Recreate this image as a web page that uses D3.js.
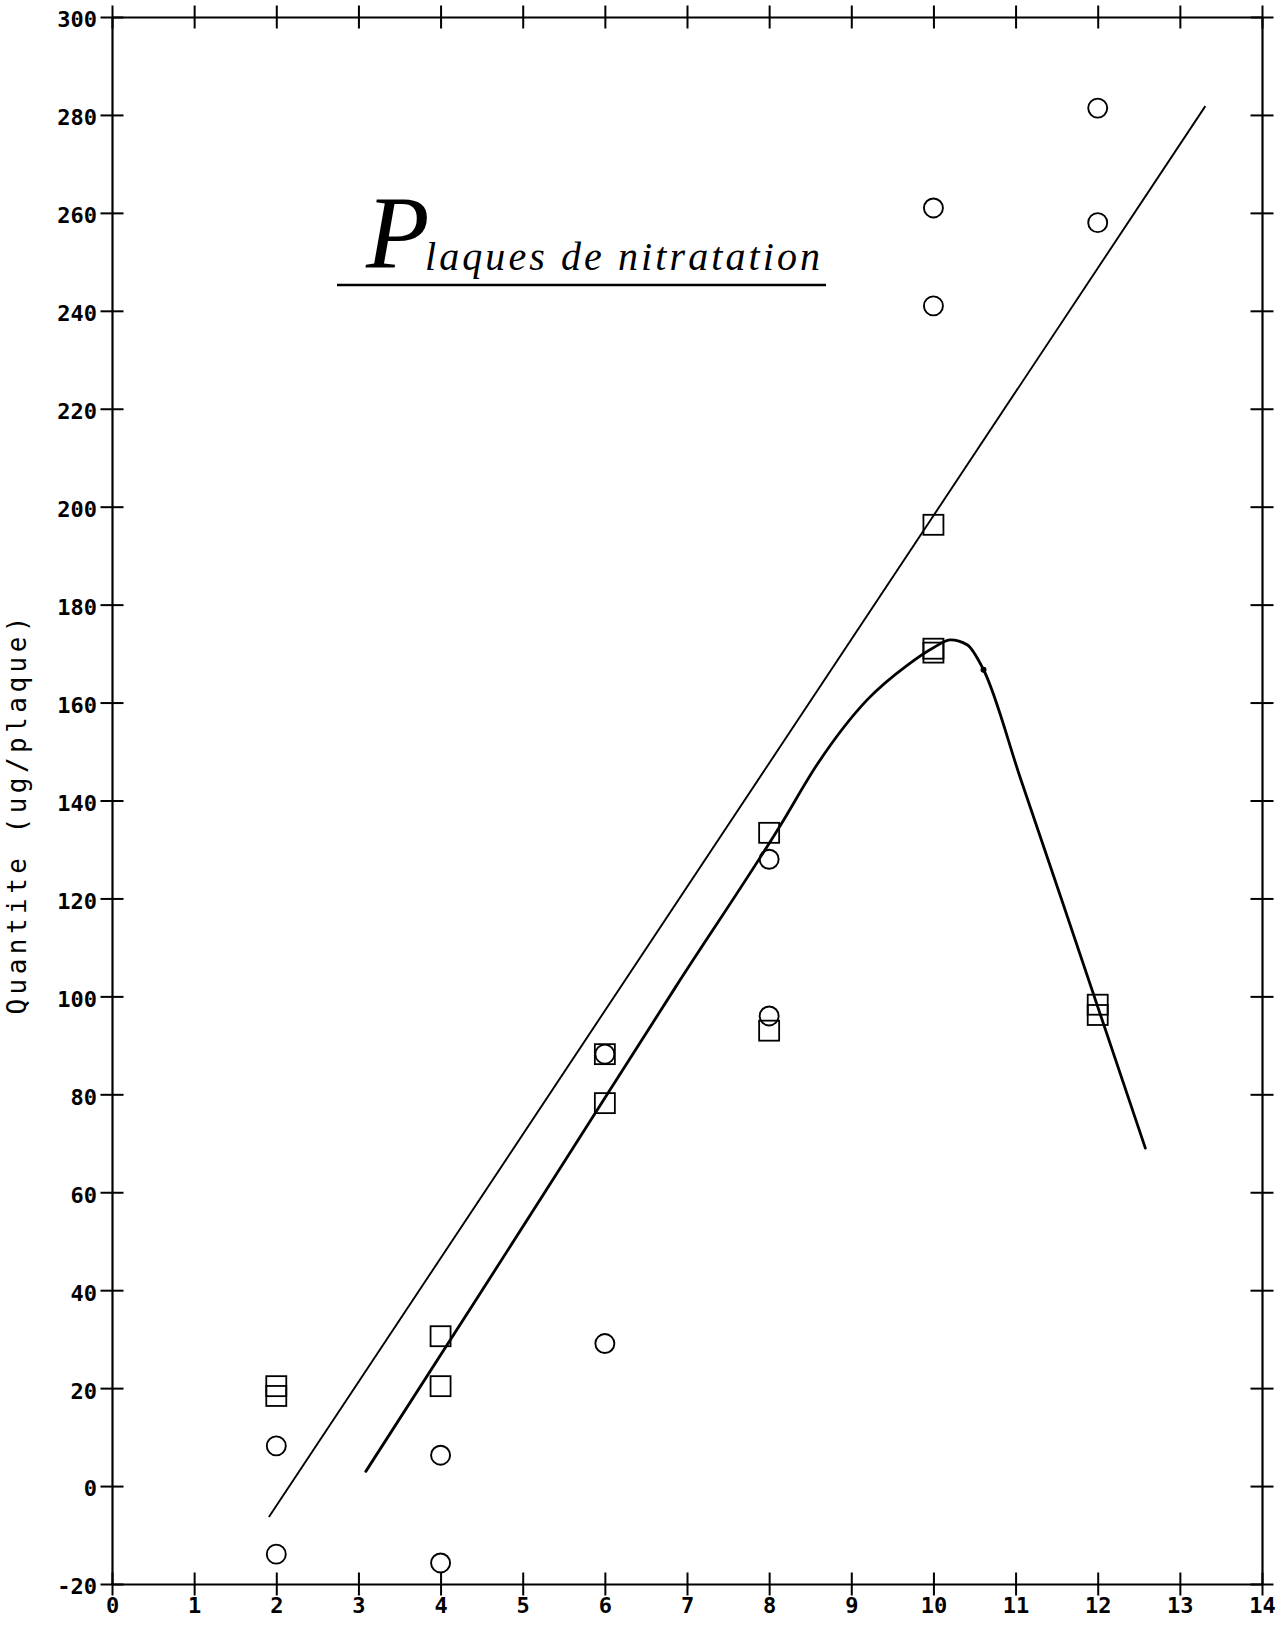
<!DOCTYPE html>
<html><head><meta charset="utf-8">
<script src="https://cdn.jsdelivr.net/npm/d3@7/dist/d3.min.js"></script>
<style>html,body{margin:0;padding:0;background:#fff;} svg{display:block}</style>
</head><body>
<svg id="chart" width="1283" height="1631"></svg>
<script>
// ---------- data ----------
const xTickValues = [0,1,2,3,4,5,6,7,8,9,10,11,12,13,14];
const xTickLabels = ["0","1","2","3","4","5","6","7","8","9","10","11","12","13","14"];
const yTickValues = [-20,0,20,40,60,80,100,120,140,160,180,200,220,240,260,280,300];
const yTickLabels = ["-20","0","20","40","60","80","100","120","140","160","180","200","220","240","260","280","300"];

const circleX = [2, 2, 4, 4, 6, 6, 8, 8, 10, 10, 12, 12];
const circleY = [8.2, -13.9, 6.3, -15.7, 88.2, 29.1, 128, 96, 261, 241, 281.4, 258];

const squareX = [2, 2, 4, 4, 6, 6, 8, 8, 10, 10, 10, 12, 12];
const squareY = [20.4, 18.4, 30.6, 20.4, 88.2, 78.2, 133.4, 93, 196.3, 171, 170.2, 98.3, 96.2];

const fitLineX = [1.91, 13.31];
const fitLineY = [-6.3, 281.8];

const curveX = [3.09, 4.45, 5.38, 6.88, 8.14, 8.59, 9.19, 9.68, 10.0, 10.21, 10.41, 10.61, 11.06, 11.55, 12.58];
const curveY = [3.0, 38.5, 62.9, 102.4, 135, 147.5, 160.5, 167.6, 171.2, 172.8, 171.8, 166.7, 144.5, 120.3, 69.0];

const curveDotX = [10.61];
const curveDotY = [166.7];

const titleInitial = "P";
const titleRest = "laques de nitratation";
const yAxisTitle = "Quantite (ug/plaque)";

// ---------- chart ----------
const svg = d3.select("#chart");
const x = d3.scaleLinear().domain([0, 14]).range([112, 1262]);
const y = d3.scaleLinear().domain([-20, 300]).range([1584, 17]);
const tk = 11.5;
const tickFont = "'DejaVu Sans Mono', monospace";

function styleAxis(g) {
  g.select(".domain").attr("stroke", "#000").attr("stroke-width", 2.2);
  g.selectAll(".tick line").attr("stroke", "#000").attr("stroke-width", 2);
  g.selectAll(".tick text").attr("fill", "#000")
    .attr("font-family", tickFont).attr("font-weight", "bold")
    .attr("font-size", 22).attr("letter-spacing", 0);
}

// bottom
const gB = svg.append("g").attr("transform", `translate(0,${y(-20)})`)
  .call(d3.axisBottom(x).tickValues(xTickValues).tickFormat((d, i) => xTickLabels[i]).tickSize(tk).tickSizeOuter(0));
gB.selectAll(".tick line").attr("y1", -tk).attr("y2", tk);
gB.selectAll(".tick text").attr("y", 29).attr("dy", 0);
styleAxis(gB);

// top
const gT = svg.append("g").attr("transform", `translate(0,${y(300)})`)
  .call(d3.axisTop(x).tickValues(xTickValues).tickFormat("").tickSize(tk).tickSizeOuter(0));
gT.selectAll(".tick line").attr("y1", tk).attr("y2", -tk);
styleAxis(gT);

// left
const gL = svg.append("g").attr("transform", `translate(${x(0)},0)`)
  .call(d3.axisLeft(y).tickValues(yTickValues).tickFormat((d, i) => yTickLabels[i]).tickSize(tk).tickSizeOuter(0));
gL.selectAll(".tick line").attr("x1", tk).attr("x2", -tk);
gL.selectAll(".tick text").attr("x", -15).attr("dy", "0.45em");
styleAxis(gL);

// right
const gR = svg.append("g").attr("transform", `translate(${x(14)},0)`)
  .call(d3.axisRight(y).tickValues(yTickValues).tickFormat("").tickSize(tk).tickSizeOuter(0));
gR.selectAll(".tick line").attr("x1", -tk).attr("x2", tk);
styleAxis(gR);

// y axis title
svg.append("text")
  .attr("transform", `translate(26,${(y(-20) + y(300)) / 2 + 15}) rotate(-90)`)
  .attr("text-anchor", "middle")
  .attr("font-family", tickFont)
  .attr("font-size", 26)
  .attr("textLength", 398).attr("lengthAdjust", "spacing")
  .attr("fill", "#000")
  .text(yAxisTitle);

// fitted straight line
const fitData = fitLineX.map((v, i) => [v, fitLineY[i]]);
svg.append("path").datum(fitData)
  .attr("d", d3.line().x(d => x(d[0])).y(d => y(d[1])))
  .attr("fill", "none").attr("stroke", "#000").attr("stroke-width", 1.9);

// fitted curve
const curveData = curveX.map((v, i) => [v, curveY[i]]);
svg.append("path").datum(curveData)
  .attr("d", d3.line().curve(d3.curveMonotoneX).x(d => x(d[0])).y(d => y(d[1])))
  .attr("fill", "none").attr("stroke", "#000").attr("stroke-width", 2.8)
  .attr("stroke-linejoin", "round").attr("stroke-linecap", "round");

svg.selectAll("circle.dot").data(curveDotX.map((v, i) => [v, curveDotY[i]]))
  .join("circle").attr("class", "dot")
  .attr("cx", d => x(d[0])).attr("cy", d => y(d[1])).attr("r", 3).attr("fill", "#000");

// squares
const sq = 20;
svg.selectAll("rect.sq").data(squareX.map((v, i) => [v, squareY[i]]))
  .join("rect").attr("class", "sq")
  .attr("x", d => x(d[0]) - sq / 2).attr("y", d => y(d[1]) - sq / 2)
  .attr("width", sq).attr("height", sq)
  .attr("fill", "none").attr("stroke", "#000").attr("stroke-width", 1.8);

// circles
svg.selectAll("circle.pt").data(circleX.map((v, i) => [v, circleY[i]]))
  .join("circle").attr("class", "pt")
  .attr("cx", d => x(d[0])).attr("cy", d => y(d[1])).attr("r", 9.5)
  .attr("fill", "none").attr("stroke", "#000").attr("stroke-width", 1.9);

// handwritten-style title
const titleFont = "'Liberation Serif', 'DejaVu Serif', serif";
svg.append("text").attr("x", 366).attr("y", 268)
  .attr("font-family", titleFont).attr("font-style", "italic")
  .attr("font-size", 104).attr("fill", "#000").text(titleInitial);
svg.append("text").attr("x", 425).attr("y", 270)
  .attr("font-family", titleFont).attr("font-style", "italic")
  .attr("font-size", 40).attr("fill", "#000")
  .attr("textLength", 395).attr("lengthAdjust", "spacing")
  .text(titleRest);
svg.append("line").attr("x1", 337).attr("x2", 826).attr("y1", 285).attr("y2", 285)
  .attr("stroke", "#000").attr("stroke-width", 2.4);
</script>
</body></html>
